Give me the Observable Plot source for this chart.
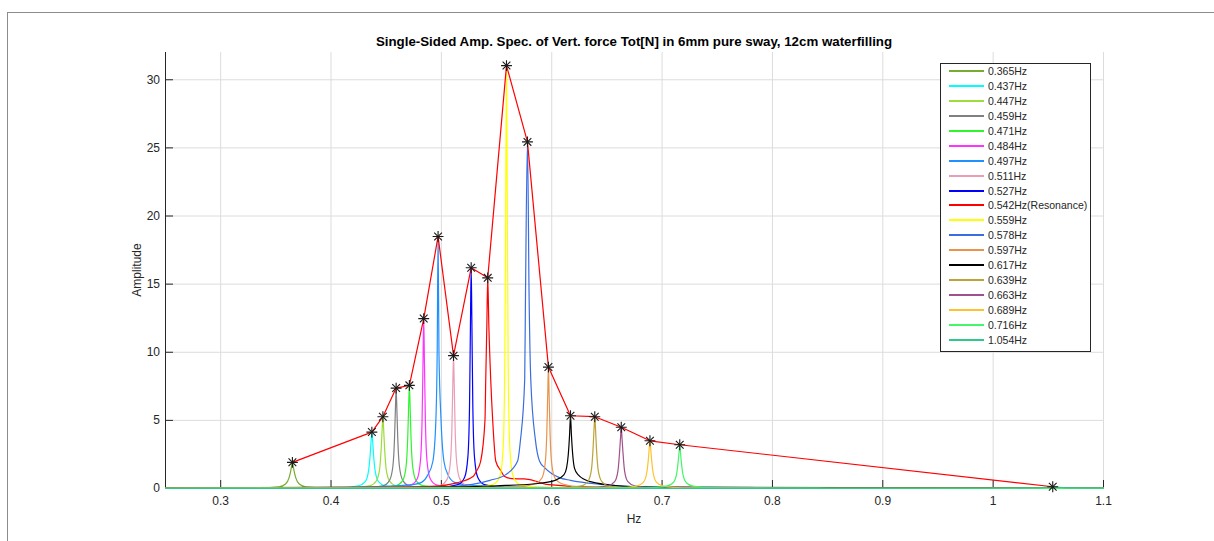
<!DOCTYPE html>
<html>
<head>
<meta charset="utf-8">
<script src="https://cdn.jsdelivr.net/npm/d3@7"></script>
<script src="https://cdn.jsdelivr.net/npm/@observablehq/plot@0.6"></script>
<style>
  body { margin: 0; background: #fff; font-family: "Liberation Sans", Arial, sans-serif; }
  #wrap { position: relative; width: 1214px; height: 541px; overflow: hidden; background: #fff; }
  #frame { position: absolute; left: 7px; top: 12px; width: 1220px; height: 560px;
           border-top: 1px solid #8c8c8c; border-left: 1px solid #8c8c8c; }
  #chart { position: absolute; left: 0; top: 0; }
  #title { position: absolute; top: 34px; left: 165px; width: 938px; text-align: center;
           font-weight: bold; font-size: 13.3px; color: #000; }
  #xlabel { position: absolute; top: 512px; left: 165px; width: 938px; text-align: center;
            font-size: 12px; color: #262626; }
  #ylabel { position: absolute; left: 137px; top: 270px; font-size: 12px; color: #262626;
            transform: translate(-50%, -50%) rotate(-90deg); white-space: nowrap; }
  #legend { position: absolute; left: 940px; top: 63px; width: 151px; height: 289px;
            box-sizing: border-box; border: 1px solid #262626; background: #fff; }
  .row { position: absolute; left: 0; height: 14px; width: 148px; }
  .swatch { position: absolute; left: 8px; top: 6px; width: 35px; height: 2px; }
  .lab { position: absolute; left: 47px; top: 0; font-size: 10.5px; line-height: 14px; color: #262626; white-space: nowrap; }
</style>
</head>
<body>
<div id="wrap">
  <div id="frame"></div>
  <div id="chart"></div>
  <div id="title">Single-Sided Amp. Spec. of Vert. force Tot[N] in 6mm pure sway, 12cm waterfilling</div>
  <div id="xlabel">Hz</div>
  <div id="ylabel">Amplitude</div>
  <div id="legend"></div>
</div>
<script>
// Tick values
const xTicks = [0.3, 0.4, 0.5, 0.6, 0.7, 0.8, 0.9, 1, 1.1];
const yTicks = [0, 5, 10, 15, 20, 25, 30];

// Legend labels and line colours, one per excitation frequency
const seriesLabels = ["0.365Hz", "0.437Hz", "0.447Hz", "0.459Hz", "0.471Hz", "0.484Hz", "0.497Hz",
  "0.511Hz", "0.527Hz", "0.542Hz(Resonance)", "0.559Hz", "0.578Hz", "0.597Hz", "0.617Hz",
  "0.639Hz", "0.663Hz", "0.689Hz", "0.716Hz", "1.054Hz"];
const seriesColors = ["#77AC30", "#00FFFF", "#9EDC3C", "#808080", "#2EF52E", "#FF33FF", "#2090FF",
  "#E99DB6", "#0000FF", "#FF0000", "#FFFF00", "#3A6EE0", "#E8934C", "#000000",
  "#BCA43A", "#A0508C", "#FFC22E", "#45F56A", "#2EC98A"];

// Peak amplitude of each run (connected by the red envelope line)
const peakFreqs = [0.365, 0.437, 0.447, 0.459, 0.471, 0.484, 0.497, 0.511, 0.527, 0.542,
  0.559, 0.578, 0.597, 0.617, 0.639, 0.663, 0.689, 0.716, 1.054];
const peakAmps = [1.92, 4.14, 5.27, 7.37, 7.57, 12.47, 18.5, 9.75, 16.2, 15.46,
  31.04, 25.44, 8.91, 5.34, 5.27, 4.5, 3.5, 3.21, 0.13];

// Spectra: [frequency (Hz), amplitude]
const spec0365 = [[0.25,0.02],[0.335,0.04],[0.353,0.12],[0.359,0.35],[0.362,0.8],[0.3635,1.3],[0.3644,1.7],[0.365,1.92],[0.3656,1.7],[0.3665,1.3],[0.368,0.8],[0.371,0.35],[0.377,0.12],[0.395,0.04],[0.5,0.02],[1.1,0.01]];
const spec0437 = [[0.25,0.02],[0.407,0.05],[0.425,0.2],[0.431,0.5],[0.434,1.3],[0.4355,2.5],[0.4364,3.6],[0.437,4.14],[0.4376,3.6],[0.4385,2.5],[0.44,1.3],[0.443,0.5],[0.449,0.2],[0.467,0.05],[0.6,0.02],[1.1,0.01]];
const spec0447 = [[0.25,0.02],[0.417,0.05],[0.435,0.2],[0.441,0.55],[0.444,1.4],[0.4455,3.0],[0.4464,4.5],[0.447,5.27],[0.4476,4.5],[0.4485,3.0],[0.45,1.4],[0.453,0.55],[0.459,0.2],[0.477,0.05],[0.6,0.02],[1.1,0.01]];
const spec0459 = [[0.25,0.02],[0.429,0.05],[0.447,0.2],[0.453,0.6],[0.456,1.6],[0.4575,3.6],[0.4584,6.0],[0.459,7.37],[0.4596,6.0],[0.4605,3.6],[0.462,1.6],[0.465,0.6],[0.471,0.2],[0.489,0.05],[0.6,0.02],[1.1,0.01]];
const spec0471 = [[0.25,0.02],[0.441,0.06],[0.459,0.22],[0.465,0.6],[0.468,1.6],[0.4695,3.7],[0.4704,6.2],[0.471,7.57],[0.4716,6.2],[0.4725,3.7],[0.474,1.6],[0.477,0.6],[0.483,0.22],[0.501,0.06],[0.6,0.02],[1.1,0.01]];
const spec0484 = [[0.25,0.02],[0.454,0.06],[0.472,0.25],[0.478,0.7],[0.481,2.0],[0.4825,5.0],[0.4834,9.5],[0.484,12.47],[0.4846,9.5],[0.4855,5.0],[0.487,2.0],[0.49,0.7],[0.496,0.25],[0.514,0.06],[0.62,0.02],[1.1,0.01]];
const spec0497 = [[0.25,0.03],[0.40,0.08],[0.455,0.18],[0.475,0.3],[0.482,0.45],[0.4877,1.0],[0.4923,2.0],[0.495,5],[0.4962,10],[0.497,18.5],[0.4978,10],[0.4997,5],[0.5023,2.0],[0.506,1.0],[0.512,0.45],[0.525,0.25],[0.56,0.12],[0.62,0.06],[1.1,0.02]];
const spec0511 = [[0.25,0.02],[0.481,0.06],[0.499,0.22],[0.505,0.65],[0.508,1.8],[0.5095,4.3],[0.5104,7.8],[0.511,9.75],[0.5116,7.8],[0.5125,4.3],[0.514,1.8],[0.517,0.65],[0.523,0.22],[0.541,0.06],[0.65,0.02],[1.1,0.01]];
const spec0527 = [[0.25,0.02],[0.497,0.07],[0.515,0.28],[0.521,0.8],[0.524,2.3],[0.5255,6.0],[0.5264,12.5],[0.527,16.2],[0.5276,12.5],[0.5285,6.0],[0.53,2.3],[0.533,0.8],[0.539,0.28],[0.557,0.07],[0.65,0.02],[1.1,0.01]];
const spec0542 = [[0.25,0.03],[0.44,0.1],[0.49,0.15],[0.513,0.4],[0.529,0.9],[0.532,1.3],[0.5356,2],[0.5395,5],[0.5402,8],[0.5412,12],[0.542,15.46],[0.543,12],[0.5447,8],[0.5465,5],[0.5493,2],[0.554,1.3],[0.557,0.9],[0.564,0.72],[0.575,0.7],[0.585,0.55],[0.595,0.3],[0.64,0.1],[1.1,0.02]];
const spec0559 = [[0.25,0.02],[0.529,0.08],[0.547,0.3],[0.553,0.9],[0.556,3.0],[0.5575,9.5],[0.5584,22.5],[0.559,31.04],[0.5596,22.5],[0.5605,9.5],[0.562,3.0],[0.565,0.9],[0.571,0.3],[0.589,0.08],[0.7,0.02],[1.1,0.01]];
const spec0578 = [[0.25,0.02],[0.45,0.08],[0.498,0.1],[0.528,0.3],[0.544,0.6],[0.558,1.0],[0.569,2.0],[0.5716,3.5],[0.5755,8],[0.5762,14],[0.578,25.44],[0.5795,14],[0.581,8],[0.5853,3.5],[0.589,2],[0.594,1.5],[0.607,0.8],[0.617,0.6],[0.644,0.3],[0.688,0.1],[1.1,0.02]];
const spec0597 = [[0.25,0.02],[0.567,0.1],[0.585,0.35],[0.591,0.75],[0.594,1.8],[0.5955,4.0],[0.5964,7.0],[0.597,8.91],[0.5976,7.0],[0.5985,4.0],[0.6,1.8],[0.603,0.75],[0.609,0.35],[0.627,0.1],[0.75,0.02],[1.1,0.01]];
const spec0617 = [[0.25,0.02],[0.45,0.05],[0.5,0.1],[0.55,0.2],[0.585,0.35],[0.603,0.6],[0.611,1.0],[0.6134,1.5],[0.615,2.5],[0.6162,4],[0.617,5.34],[0.6178,4],[0.619,2.5],[0.6206,1.5],[0.624,1.0],[0.635,0.5],[0.66,0.2],[0.7,0.08],[1.1,0.02]];
const spec0639 = [[0.25,0.02],[0.609,0.05],[0.627,0.2],[0.633,0.55],[0.636,1.4],[0.6375,3.0],[0.6384,4.5],[0.639,5.27],[0.6396,4.5],[0.6405,3.0],[0.642,1.4],[0.645,0.55],[0.651,0.2],[0.669,0.05],[0.8,0.02],[1.1,0.01]];
const spec0663 = [[0.25,0.02],[0.633,0.05],[0.651,0.2],[0.657,0.5],[0.66,1.3],[0.6615,2.7],[0.6624,3.8],[0.663,4.5],[0.6636,3.8],[0.6645,2.7],[0.666,1.3],[0.669,0.5],[0.675,0.2],[0.693,0.05],[0.8,0.02],[1.1,0.01]];
const spec0689 = [[0.25,0.02],[0.659,0.05],[0.677,0.18],[0.683,0.45],[0.686,1.1],[0.6875,2.1],[0.6884,3.0],[0.689,3.5],[0.6896,3.0],[0.6905,2.1],[0.692,1.1],[0.695,0.45],[0.701,0.18],[0.719,0.05],[0.85,0.02],[1.1,0.01]];
const spec0716 = [[0.25,0.02],[0.686,0.05],[0.704,0.17],[0.71,0.42],[0.713,1.0],[0.7145,1.9],[0.7154,2.7],[0.716,3.21],[0.7166,2.7],[0.7175,1.9],[0.719,1.0],[0.722,0.42],[0.728,0.17],[0.746,0.05],[0.85,0.02],[1.1,0.01]];
const spec1054 = [[0.25,0.01],[1.0,0.02],[1.042,0.05],[1.048,0.08],[1.051,0.11],[1.053,0.12],[1.054,0.13],[1.055,0.12],[1.057,0.11],[1.06,0.08],[1.066,0.05],[1.1,0.03]];

const spectra = [spec0365, spec0437, spec0447, spec0459, spec0471, spec0484, spec0497,
  spec0511, spec0527, spec0542, spec0559, spec0578, spec0597, spec0617,
  spec0639, spec0663, spec0689, spec0716, spec1054];

const peaks = peakFreqs.map((f, i) => ({f, a: peakAmps[i]}));

const specMarks = spectra.map((pts, i) =>
  Plot.line(pts, {x: d => d[0], y: d => d[1], stroke: seriesColors[i], strokeWidth: 1.2, curve: "monotone-x"})
);

const chart = Plot.plot({
  width: 1214,
  height: 541,
  marginLeft: 165,
  marginRight: 111,
  marginTop: 52,
  marginBottom: 53,
  style: {fontFamily: "'Liberation Sans', Arial, sans-serif", fontSize: "12px", color: "#262626", background: "transparent"},
  x: {domain: [0.25, 1.1]},
  y: {domain: [0, 32]},
  marks: [
    Plot.gridX(xTicks, {stroke: "#dcdcdc", strokeOpacity: 1}),
    Plot.gridY(yTicks.slice(1), {stroke: "#dcdcdc", strokeOpacity: 1}),
    Plot.axisX(xTicks, {tickSize: -8, tickPadding: 16, tickFormat: d => String(d), label: null, stroke: "#262626"}),
    Plot.axisY(yTicks, {tickSize: -8, tickPadding: 13.5, label: null, stroke: "#262626"}),
    Plot.ruleX([0.25], {stroke: "#262626"}),
    Plot.ruleY([0], {stroke: "#262626"}),
    ...specMarks,
    Plot.line(peaks, {x: "f", y: "a", stroke: "#FF0000", strokeWidth: 1.2}),
    Plot.dot(peaks, {x: "f", y: "a", symbol: "plus", r: 3.6, stroke: "#1a1a1a", strokeWidth: 1.1}),
    Plot.dot(peaks, {x: "f", y: "a", symbol: "times", r: 3.6, stroke: "#1a1a1a", strokeWidth: 1.1})
  ]
});
document.getElementById("chart").appendChild(chart);

// Legend box
const legend = document.getElementById("legend");
seriesLabels.forEach((label, i) => {
  const row = document.createElement("div");
  row.className = "row";
  row.style.top = (i * 14.94) + "px";
  const sw = document.createElement("div");
  sw.className = "swatch";
  sw.style.background = seriesColors[i];
  const tx = document.createElement("div");
  tx.className = "lab";
  tx.textContent = label;
  row.appendChild(sw);
  row.appendChild(tx);
  legend.appendChild(row);
});
</script>
</body>
</html>
